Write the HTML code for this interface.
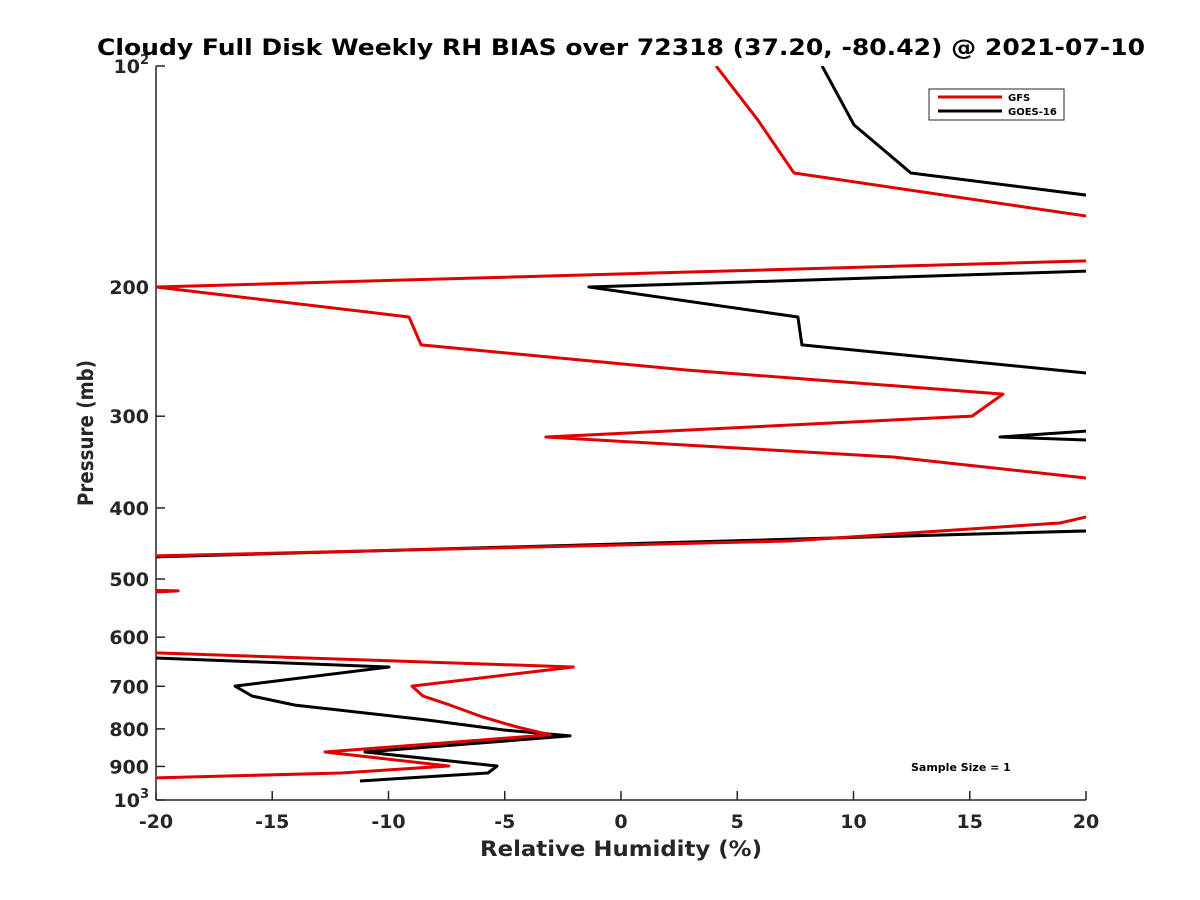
<!DOCTYPE html>
<html><head><meta charset="utf-8"><style>
body{margin:0;background:#fff;}
svg{display:block;font-family:"DejaVu Sans","Liberation Sans",sans-serif;}
</style></head><body>
<svg width="1200" height="900" viewBox="0 0 1200 900" id="chart">
<defs><clipPath id="plotclip"><rect x="156" y="66" width="930" height="734"/></clipPath></defs>
<rect width="1200" height="900" fill="#fff"/>
<text x="621" y="55" text-anchor="middle" font-size="22" font-weight="bold" fill="#000" textLength="1048" lengthAdjust="spacingAndGlyphs">Cloudy Full Disk Weekly RH BIAS over 72318 (37.20, -80.42) @ 2021-07-10</text>
<g id="axes"></g>
<g id="series" clip-path="url(#plotclip)"></g>
<text x="621" y="856" text-anchor="middle" font-size="21" font-weight="bold" fill="#262626" textLength="282" lengthAdjust="spacingAndGlyphs">Relative Humidity (%)</text>
<text transform="translate(93,433) rotate(-90)" text-anchor="middle" font-size="21" font-weight="bold" fill="#262626" textLength="146" lengthAdjust="spacingAndGlyphs">Pressure (mb)</text>
<g>
<rect x="929" y="89" width="135" height="31" fill="#fff" stroke="#262626" stroke-width="1"/>
<line x1="938" y1="97" x2="1002" y2="97" stroke="#e00000" stroke-width="3"/>
<text x="1008" y="101" font-size="10" font-weight="bold" fill="#000">GFS</text>
<line x1="938" y1="111" x2="1002" y2="111" stroke="#000" stroke-width="3"/>
<text x="1008" y="115" font-size="10" font-weight="bold" fill="#000">GOES-16</text>
</g>
<text x="911" y="771" font-size="11" font-weight="bold" fill="#000">Sample Size = 1</text>
</svg>
<script>
const xTicks = [-20,-15,-10,-5,0,5,10,15,20];
const yTicks = [100,200,300,400,500,600,700,800,900,1000];
const gfsRH = [4.09,5.89,7.44,31.0,-20,-9.12,-8.60,2.80,16.43,15.10,-3.23,11.70,24.95,18.88,7.27,-20,-30,-19.05,-30,-30,-2.05,-8.99,-8.52,-7.35,-5.94,-4.47,-3.05,-12.73,-7.40,-12.04,-25];
const gfsP = [100,118.5,139.9,180.2,200,219.8,239.9,259.5,279.9,299.9,320.2,341.0,378.7,419.4,443.7,465,510,519,540,615,658.9,699.6,721.7,742.5,770.9,795.3,815,860.3,898.8,918.9,942];
const goesRH = [8.65,10.02,12.47,40.7,-1.38,7.61,7.78,35.0,16.30,82.3,-20,-30,-9.98,-16.6,-15.87,-14.02,-8.34,-5.08,-2.19,-11.01,-5.33,-5.72,-11.23];
const goesP = [100,120.3,139.9,181.3,200,219.8,239.9,291.8,320.2,378.7,466.5,622.8,658.9,699.6,721.7,742.5,778,802.7,817.9,860.3,898.8,918.9,942];

const X0=156,X1=1086,Y0=66,Y1=800;
function xs(v){return X0+(v+20)/40*(X1-X0);}
function ys(p){return Y0+(Math.log10(p)-2)*(Y1-Y0);}
const NS='http://www.w3.org/2000/svg';
const axes=document.getElementById('axes');
const series=document.getElementById('series');
function mk(tag,attrs,parent){const e=document.createElementNS(NS,tag);for(const k in attrs)e.setAttribute(k,attrs[k]);parent.appendChild(e);return e;}

const la=mk('line',{x1:X0,y1:Y0,x2:X0,y2:Y1,stroke:'#262626','stroke-width':1.5},axes);


const ba=mk('line',{x1:X0,y1:Y1,x2:X1,y2:Y1,stroke:'#262626','stroke-width':1.5},axes);



xTicks.forEach(v=>{
  const x=xs(v);
  const t=mk('line',{x1:x,y1:Y1,x2:x,y2:Y1-9,stroke:'#262626','stroke-width':1.5},axes);
  
  
  const l=mk('text',{x:x,y:Y1+28,'text-anchor':'middle','font-size':19,'font-weight':'bold',fill:'#262626'},axes);
  l.textContent=String(v);
  
  
});
yTicks.forEach(p=>{
  const y=ys(p);
  const t=mk('line',{x1:X0,y1:y,x2:X0+9,y2:y,stroke:'#262626','stroke-width':1.5},axes);
  
  
  const l=mk('text',{x:X0-7,y:y+7,'text-anchor':'end','font-size':19,'font-weight':'bold',fill:'#262626'},axes);
  if(p===100||p===1000){
    l.textContent='10';
    const s=mk('tspan',{dy:-9,'font-size':13},l);
    s.textContent=p===100?'2':'3';
  } else l.textContent=String(p);
  
  
});

function drawLine(xv,pv,color,name){
  const pts=xv.map((v,i)=>xs(v).toFixed(1)+','+ys(pv[i]).toFixed(1)).join(' ');
  const pl=mk('polyline',{points:pts,fill:'none',stroke:color,'stroke-width':3,'stroke-linejoin':'round'},series);
  
  
}
drawLine(goesRH,goesP,'#000','goes16-line');
drawLine(gfsRH,gfsP,'#e00000','gfs-line');
</script>
</body></html>
